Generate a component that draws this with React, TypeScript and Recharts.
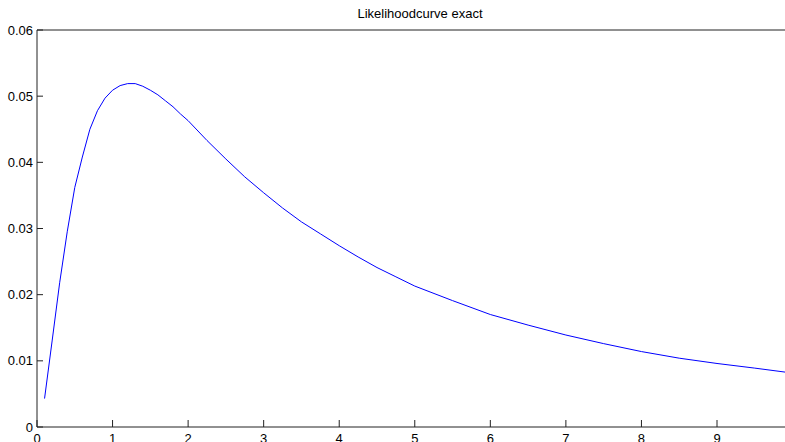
import React from 'react';
import { LineChart, Line, XAxis, YAxis } from 'recharts';

// values
const thetaValues = [
  0.1, 0.2, 0.3, 0.4, 0.5, 0.6, 0.7, 0.8, 0.9, 1.0,
  1.1, 1.2, 1.3, 1.4, 1.5, 1.6, 1.7, 1.8, 1.9, 2.0,
  2.25, 2.5, 2.75, 3.0, 3.25, 3.5, 3.75, 4.0, 4.25, 4.5,
  4.75, 5.0, 5.5, 6.0, 6.5, 7.0, 7.5, 8.0, 8.5, 9.0,
  9.5, 9.9,
];
const likelihoodValues = [
  0.0043, 0.013, 0.0218, 0.0295, 0.0362, 0.0408, 0.045, 0.0478, 0.0497, 0.0509,
  0.0516, 0.0519, 0.0519, 0.0515, 0.0509, 0.0502, 0.0493, 0.0484, 0.0473, 0.0463,
  0.0433, 0.0405, 0.0378, 0.0354, 0.0331, 0.031, 0.0292, 0.0274, 0.0257, 0.0241,
  0.0227, 0.0213, 0.0191, 0.017, 0.0154, 0.0139, 0.0126, 0.0114, 0.0104, 0.0096,
  0.0089, 0.0083,
];
const xTicks = [0, 1, 2, 3, 4, 5, 6, 7, 8, 9];
const yTicks = [0, 0.01, 0.02, 0.03, 0.04, 0.05, 0.06];

const data = thetaValues.map((t, i) => ({ theta: t, L: likelihoodValues[i] }));

const font = '"Liberation Sans", Arial, Helvetica, sans-serif';
const axisColor = '#222';

export default function App() {
  return (
    <div
      style={{
        position: 'absolute',
        left: 0,
        top: 0,
        width: 785,
        height: 442,
        overflow: 'hidden',
        background: '#fff',
        fontFamily: font,
      }}
    >
      <div
        style={{
          position: 'absolute',
          left: 0,
          width: 840,
          top: 6,
          textAlign: 'center',
          fontSize: 13,
          color: '#000',
        }}
      >
        Likelihoodcurve exact
      </div>
      <LineChart
        width={785}
        height={442}
        data={data}
        margin={{ top: 0, right: 0, bottom: 0, left: 0 }}
      >
        <XAxis
          xAxisId="bottom"
          dataKey="theta"
          type="number"
          domain={[0, 9.9]}
          ticks={xTicks}
          allowDataOverflow
          height={15}
          stroke={axisColor}
          tickSize={-7}
          tickMargin={14}
          tick={{ fill: '#000', fontSize: 13, fontFamily: font }}
        />
        <XAxis
          xAxisId="top"
          orientation="top"
          dataKey="theta"
          type="number"
          domain={[0, 9.9]}
          ticks={xTicks}
          allowDataOverflow
          height={30}
          stroke={axisColor}
          tickSize={-7}
          tick={false}
        />
        <YAxis
          type="number"
          domain={[0, 0.06]}
          ticks={yTicks}
          width={37}
          stroke={axisColor}
          tickSize={-6}
          tickMargin={10}
          tickFormatter={(v: number) => String(v)}
          tick={{ fill: '#000', fontSize: 13, fontFamily: font }}
        />
        <Line
          xAxisId="bottom"
          type="linear"
          dataKey="L"
          stroke="#0000ff"
          strokeWidth={1}
          dot={false}
          isAnimationActive={false}
        />
      </LineChart>
    </div>
  );
}
